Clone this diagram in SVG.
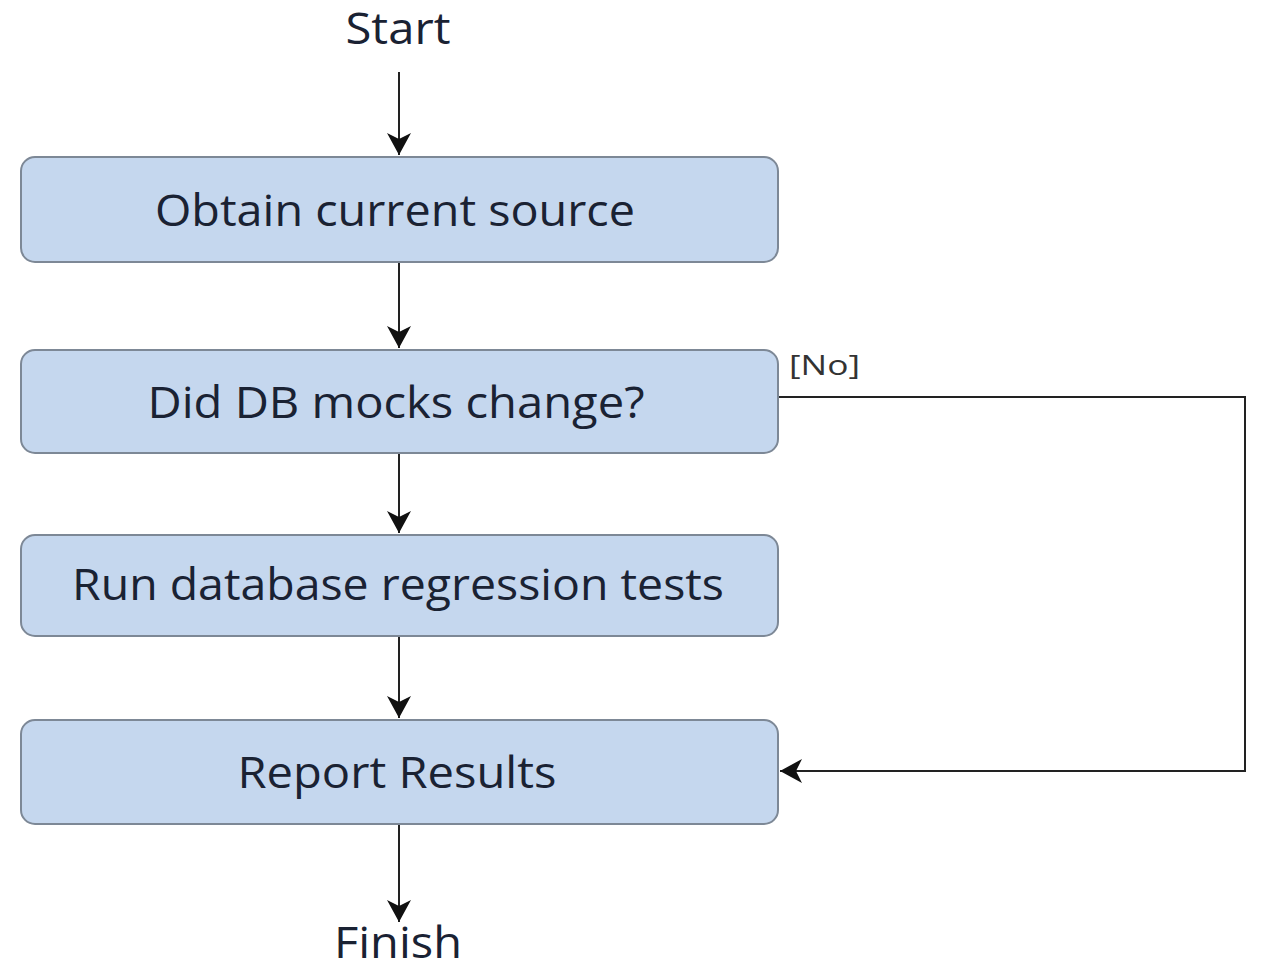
<svg xmlns="http://www.w3.org/2000/svg" width="1261" height="972" viewBox="0 0 1261 972">
<style>
.box{fill:#c5d7ee;stroke:#7d8896;stroke-width:2}
.t{font-family:"Open Sans","Noto Sans",sans-serif;font-size:43px;fill:#1a2233;text-anchor:middle}
.l{font-family:"Open Sans","Noto Sans",sans-serif;font-size:27px;fill:#333}
.c{fill:none;stroke:#222;stroke-width:2}
</style>
<defs>
<marker id="ah" markerWidth="24" markerHeight="24" viewBox="0 0 24 24" refX="22" refY="12" orient="auto" markerUnits="userSpaceOnUse">
<path d="M0,0 L22,12 L0,24 L6,12 Z" fill="#111"/>
</marker>
</defs>
<rect width="1261" height="972" fill="#fff"/>
<g id="connectors">
<line class="c" x1="399" y1="72" x2="399" y2="155" marker-end="url(#ah)"/>
<line class="c" x1="399" y1="263" x2="399" y2="348" marker-end="url(#ah)"/>
<line class="c" x1="399" y1="454" x2="399" y2="533" marker-end="url(#ah)"/>
<line class="c" x1="399" y1="637" x2="399" y2="718" marker-end="url(#ah)"/>
<line class="c" x1="399" y1="825" x2="399" y2="922" marker-end="url(#ah)"/>
<polyline class="c" points="779,397 1245,397 1245,771 780,771" marker-end="url(#ah)"/>
<text class="l" x="789" y="375" textLength="71" lengthAdjust="spacingAndGlyphs">[No]</text>
</g>
<g id="start"><text class="t" x="398" y="44" textLength="105" lengthAdjust="spacingAndGlyphs">Start</text></g>
<g id="n1"><rect class="box" x="21" y="157" width="757" height="105" rx="14"/><text class="t" x="395" y="226" textLength="480" lengthAdjust="spacingAndGlyphs">Obtain current source</text></g>
<g id="n2"><rect class="box" x="21" y="350" width="757" height="103" rx="14"/><text class="t" x="396" y="418" textLength="497" lengthAdjust="spacingAndGlyphs">Did DB mocks change?</text></g>
<g id="n3"><rect class="box" x="21" y="535" width="757" height="101" rx="14"/><text class="t" x="398" y="600" textLength="652" lengthAdjust="spacingAndGlyphs">Run database regression tests</text></g>
<g id="n4"><rect class="box" x="21" y="720" width="757" height="104" rx="14"/><text class="t" x="397" y="788" textLength="319" lengthAdjust="spacingAndGlyphs">Report Results</text></g>
<g id="finish"><text class="t" x="398" y="958" textLength="128" lengthAdjust="spacingAndGlyphs">Finish</text></g>
</svg>
